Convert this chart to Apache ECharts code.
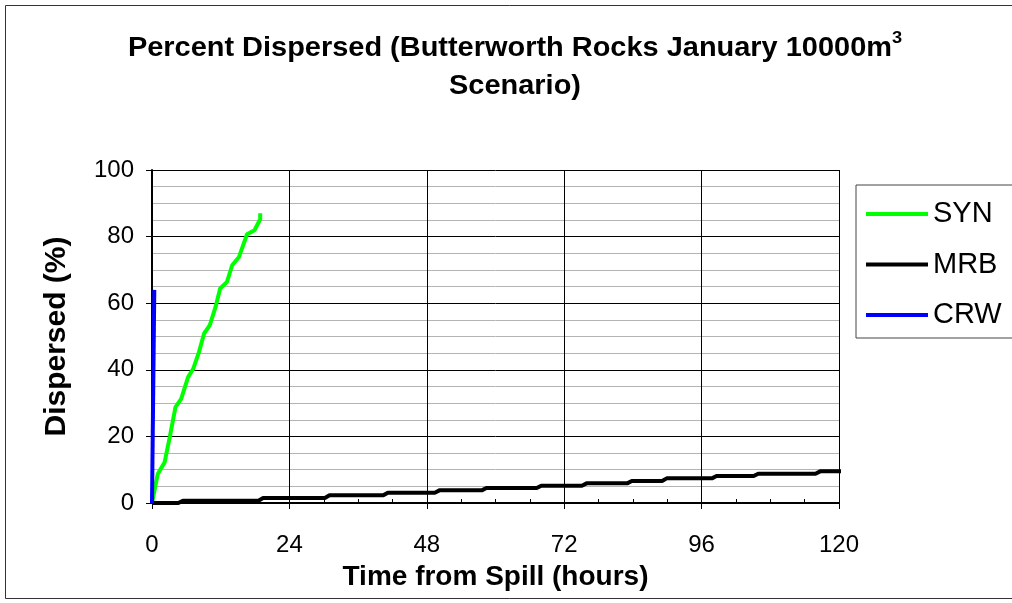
<!DOCTYPE html>
<html>
<head>
<meta charset="utf-8">
<script src="https://cdn.jsdelivr.net/npm/echarts@6/dist/echarts.min.js"></script>
<style>
html, body { margin: 0; padding: 0; background: #fff; }
#chart { width: 1012px; height: 603px; }
</style>
</head>
<body>
<div id="chart"></div>
<script>
// axis ticks
const xTicks = [0, 24, 48, 72, 96, 120]
const yTicks = [0, 20, 40, 60, 80, 100]
const seriesNames = ['SYN', 'MRB', 'CRW']

// SYN: quick rise in the first ~19 hours
const synHours = [0, 1.0, 2.2, 3.1, 4.1, 5.1, 6.3, 7.2, 8.2, 9.1, 10.1, 11.1, 11.9, 13.1, 14.0, 15.2, 16.6, 17.9, 18.9, 18.9]
const synValues = [0, 8.7, 12.2, 19.8, 28.8, 31.3, 37.8, 40.3, 45.3, 50.9, 53.4, 58.9, 64.4, 66.4, 71.4, 73.9, 80.7, 81.9, 85.2, 87.0]

// MRB: slow staircase
const mrbHours = [0, 4.6, 5.4, 18.6, 19.4, 30.2, 31.0, 40.4, 41.2, 49.4, 50.2, 57.6, 58.4, 67.2, 68.0, 75.1, 75.9, 83.0, 83.8, 89.1, 89.9, 97.8, 98.6, 105.1, 105.9, 115.9, 116.7, 121.5]
const mrbValues = [0, 0, 0.7, 0.7, 1.5, 1.5, 2.3, 2.3, 3.1, 3.1, 3.8, 3.8, 4.5, 4.5, 5.2, 5.2, 5.9, 5.9, 6.6, 6.6, 7.4, 7.4, 8.1, 8.1, 8.8, 8.8, 9.5, 9.5]

// CRW: almost instant
const crwHours = [0, 0.4]
const crwValues = [0, 64]

const font = 'Liberation Sans, Arial, sans-serif'

function pairs(xs, ys) {
	return xs.map((x, i) => [x, ys[i]])
}

function lineSeries(name, color, xs, ys) {
	return {
		name: name,
		type: 'line',
		data: pairs(xs, ys),
		symbol: 'none',
		clip: false,
		lineStyle: { color: color, width: 4 },
		itemStyle: { color: color },
	}
}

let chart = echarts.init(document.getElementById('chart'))
chart.setOption({
	animation: false,
	backgroundColor: '#fff',
	textStyle: { fontFamily: font },
	graphic: [
		{
			type: 'rect',
			silent: true,
			z: -10,
			shape: { x: 5.5, y: 5.5, width: 1040, height: 593 },
			style: { fill: 'none', stroke: '#333', lineWidth: 1 },
		},
		{
			// title, a bit wider than the font gives
			type: 'text',
			x: 515,
			y: 30,
			scaleX: 1.072,
			style: {
				text: '{a|Percent Dispersed (Butterworth Rocks January 10000m}{s|3}\n{a|Scenario)}',
				align: 'center',
				verticalAlign: 'top',
				rich: {
					a: { fontSize: 27, fontWeight: 'bold', fontFamily: font, lineHeight: 38, fill: '#000' },
					s: { fontSize: 17, fontWeight: 'bold', fontFamily: font, lineHeight: 20, verticalAlign: 'top', fill: '#000' },
				},
			},
		},
	],
	grid: { left: 152, right: 173, top: 170, bottom: 100, containLabel: false },
	legend: {
		data: seriesNames,
		orient: 'vertical',
		left: 856,
		top: 185,
		icon: 'rect',
		itemWidth: 62,
		itemHeight: 4,
		itemGap: 21.5,
		padding: [14.5, 40, 8.5, 10],
		borderColor: '#444',
		borderWidth: 1,
		textStyle: { fontSize: 29, color: '#000', fontFamily: font },
	},
	xAxis: [
		{
			type: 'value',
			position: 'bottom',
			min: xTicks[0],
			max: xTicks[xTicks.length - 1],
			interval: 24,
			name: 'Time from Spill (hours)',
			nameLocation: 'middle',
			nameGap: 60,
			nameTextStyle: { fontSize: 28, fontWeight: 'bold', color: '#000', fontFamily: font },
			axisLine: { lineStyle: { color: '#000', width: 2 } },
			axisTick: { show: true, inside: false, length: 6, lineStyle: { color: '#000', width: 1 } },
			axisLabel: { margin: 30, fontSize: 24, color: '#000', fontFamily: font },
			splitLine: { show: true, lineStyle: { color: '#000', width: 1 } },
		},
		{
			// small inside ticks every 6 hours
			type: 'value',
			position: 'bottom',
			min: 0,
			max: 120,
			interval: 6,
			axisLine: { show: false },
			axisTick: { show: true, inside: true, length: 4, lineStyle: { color: '#000', width: 1 } },
			axisLabel: { show: false },
			splitLine: { show: false },
		},
	],
	yAxis: {
		type: 'value',
		min: yTicks[0],
		max: yTicks[yTicks.length - 1],
		interval: 20,
		name: 'Dispersed (%)',
		nameLocation: 'middle',
		nameRotate: 90,
		nameGap: 80,
		nameTextStyle: { fontSize: 30, fontWeight: 'bold', color: '#000', fontFamily: font },
		axisLine: { show: true, lineStyle: { color: '#000', width: 2 } },
		axisTick: { show: true, inside: false, length: 6, lineStyle: { color: '#000', width: 1 } },
		axisLabel: { margin: 18, fontSize: 24, color: '#000', fontFamily: font },
		splitLine: { show: true, lineStyle: { color: '#000', width: 1 } },
		minorTick: { show: false, splitNumber: 4 },
		minorSplitLine: { show: true, lineStyle: { color: '#b4b4b4', width: 1 } },
	},
	series: [
		lineSeries(seriesNames[0], '#00ff00', synHours, synValues),
		lineSeries(seriesNames[1], '#000000', mrbHours, mrbValues),
		lineSeries(seriesNames[2], '#0000ff', crwHours, crwValues),
	],
})
window.addEventListener('resize', function () {
	chart.resize()
})
</script>
</body>
</html>
